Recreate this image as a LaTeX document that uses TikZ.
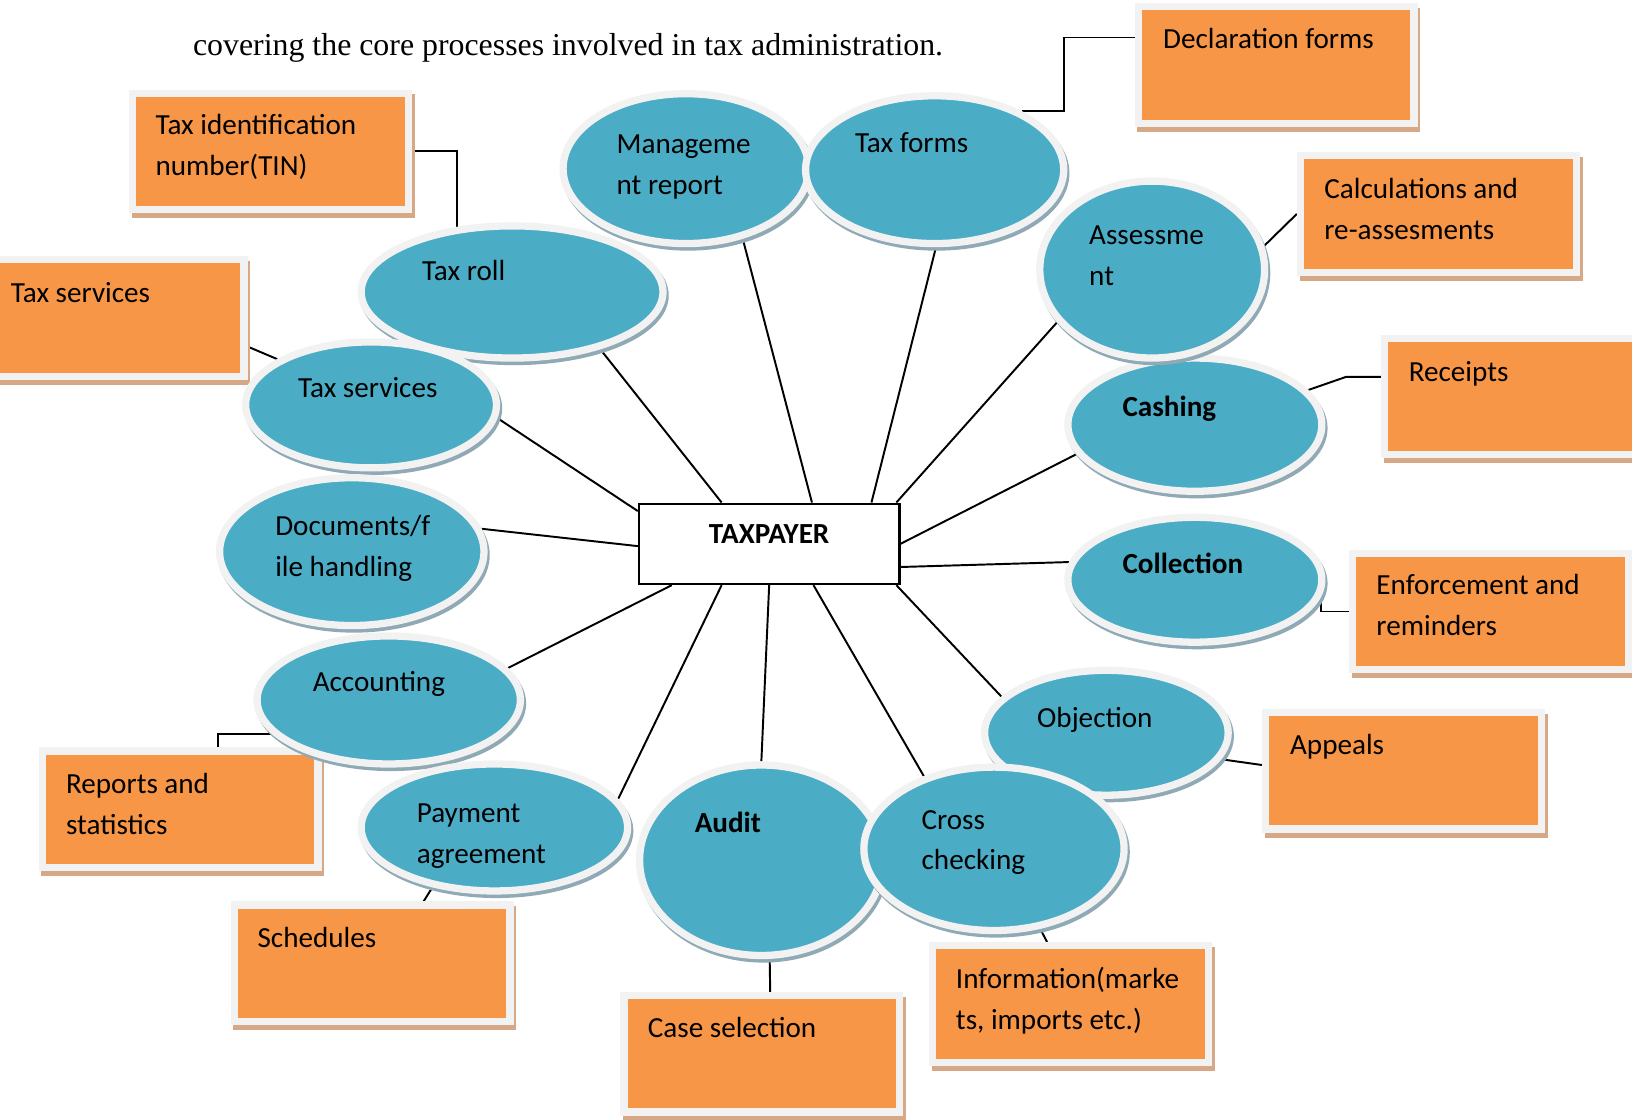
\documentclass[tikz,border=0pt]{standalone}
\usepackage{fontspec}
\setmainfont{Carlito}
\newfontfamily\bodyserif{Liberation Serif}
\usetikzlibrary{shapes.geometric,shadows,calc}

\pgfdeclarelayer{wires}
\pgfsetlayers{wires,main}

\definecolor{bubblefill}{RGB}{75,172,198}
\definecolor{rimgrey}{RGB}{242,242,242}
\definecolor{bubbleshade}{RGB}{143,170,181}
\definecolor{notefill}{RGB}{247,150,70}
\definecolor{noteshade}{RGB}{214,168,134}

\tikzset{every picture/.style={line width=0.75pt}}
\tikzset{
  bubble/.style={ellipse, inner sep=0pt, fill=bubblefill, draw=rimgrey, line width=5.25pt,
    general shadow={fill=bubbleshade, draw=bubbleshade, line width=5.25pt, shadow xshift=1.5pt, shadow yshift=-2.5pt}},
  note/.style={rectangle, inner sep=0pt, minimum width=198.75pt, minimum height=84pt, fill=notefill, draw=rimgrey, line width=5.25pt,
    general shadow={fill=noteshade, draw=noteshade, line width=5.25pt, shadow xshift=2pt, shadow yshift=-3.5pt}},
  lbl/.style={anchor=north west, inner sep=0pt, align=left, font=\fontsize{21}{29.5}\selectfont},
  link/.style={line width=1.4pt},
}

\begin{document}
\begin{tikzpicture}[x=0.75pt,y=0.75pt,yscale=-1,xscale=1]
\useasboundingbox (0,0) rectangle (1568,1076);

% Text Node
\node[anchor=base west, inner sep=0pt, font=\bodyserif\fontsize{22.95}{27}\selectfont] (intro) at (185,53) {covering the core processes involved in tax administration.};

%Shape: Rectangle [orange notes]
\node[note] (declar) at (1226,62.5) {};
\node[note] (tin) at (260,145.5) {};
\node[note] (calc) at (1382,205.5) {};
\node[note] (servbox) at (102,305.5) {};
\node[note] (receipts) at (1463,381) {};
\node[note] (enforce) at (1432,587.5) {};
\node[note] (appeals) at (1348.5,740.5) {};
\node[note] (reports) at (173,777.5) {};
\node[note] (schedules) at (357.5,925.5) {};
\node[note] (casesel) at (732,1012.5) {};
\node[note] (info) at (1028.5,964.5) {};

%Shape: Ellipse [processes]
\node[bubble, minimum width=177pt, minimum height=108pt] (mgmt) at (659,162) {};
\node[bubble, minimum width=186pt, minimum height=106.5pt] (taxforms) at (898,163) {};
\node[bubble, minimum width=217.5pt, minimum height=95.25pt] (taxroll) at (492,280.5) {};
\node[bubble, minimum width=180.75pt, minimum height=90.75pt] (taxserv) at (356.5,389) {};
\node[bubble, minimum width=190.5pt, minimum height=106.5pt] (docs) at (338,530) {};
\node[bubble, minimum width=189.75pt, minimum height=92.25pt] (acct) at (373.5,672.5) {};
\node[bubble, minimum width=192pt, minimum height=91.5pt] (payment) at (475,795) {};
\node[bubble, minimum width=183pt, minimum height=96pt] (cashing) at (1148,408) {};
\node[bubble, minimum width=162pt, minimum height=127.5pt] (assess) at (1107,259) {};
\node[bubble, minimum width=183pt, minimum height=90pt] (collect) at (1148,557) {};
\node[bubble, minimum width=175.5pt, minimum height=90pt] (object) at (1063,704) {};
\node[bubble, minimum width=175.5pt, minimum height=137.25pt] (audit) at (731.5,826.5) {};
\node[bubble, minimum width=187.5pt, minimum height=117.75pt] (cross) at (955,815.5) {};

%Shape: Rectangle [centre]
\node[draw, fill=white, line width=1.8pt, inner sep=0pt, minimum width=187.5pt, minimum height=57.75pt,
      text height=8pt, text depth=8pt, font=\fontsize{21}{29.5}\selectfont\bfseries] (payer) at (739,522.5) {TAXPAYER};

% Text Node
\node[lbl] (mgmtT) at (592,119.5) {\strut Manageme\\nt report};
\node[lbl] (taxformsT) at (821,118.5) {\strut Tax forms};
\node[lbl] (taxrollT) at (405,241.5) {\strut Tax roll};
\node[lbl] (assessT) at (1046,206.5) {\strut Assessme\\nt};
\node[lbl] (taxservT) at (286,353.5) {\strut Tax services};
\node[lbl] (cashingT) at (1078,372.5) {\strut\bfseries Cashing};
\node[lbl] (docsT) at (264,486.5) {\strut Documents/f\\ile handling};
\node[lbl] (collectT) at (1078,522.5) {\strut\bfseries Collection};
\node[lbl] (acctT) at (300,636.5) {\strut Accounting};
\node[lbl] (objectT) at (996,670.5) {\strut Objection};
\node[lbl] (paymentT) at (400,762.5) {\strut Payment\\agreement};
\node[lbl] (auditT) at (667,771.5) {\strut\bfseries Audit};
\node[lbl] (crossT) at (885,768.5) {\strut Cross\\checking};

% Text Node
\node[lbl] (declarT) at (1117,18.5) {\strut Declaration forms};
\node[lbl] (tinT) at (149,101.5) {\strut Tax identification\\number(TIN)};
\node[lbl] (calcT) at (1272,162.5) {\strut Calculations and\\re-assesments};
\node[lbl] (servboxT) at (10,262.5) {\strut Tax services};
\node[lbl] (receiptsT) at (1353,338.5) {\strut Receipts};
\node[lbl] (enforceT) at (1322,543.5) {\strut Enforcement and\\reminders};
\node[lbl] (appealsT) at (1239,696.5) {\strut Appeals};
\node[lbl] (reportsT) at (63,734.5) {\strut Reports and\\statistics};
\node[lbl] (schedulesT) at (247,882.5) {\strut Schedules};
\node[lbl] (caselT) at (622,968.5) {\strut Case selection};
\node[lbl] (infoT) at (918,921.5) {\strut Information(marke\\ts, imports etc.)};

\begin{pgfonlayer}{wires}
%Straight Lines [spokes]
\draw[link] (payer.44) -- (mgmt.-51);
\draw[link] (payer.22.5) -- (taxforms.-89);
\draw[link] (payer.139) -- (taxroll.-33);
\draw[link] (payer.18.7) -- (assess.209);
\draw[link] (payer.166.7) -- (taxserv.-6.7);
\draw[link] (payer.-0.7) -- (cashing.194);
\draw[link] (payer.181) -- (docs.10);
\draw[link] (payer.-10.2) -- (collect.172);
\draw[link] (payer.203.6) -- (acct.15);
\draw[link] (payer.-18.7) -- (object.161);
\draw[link] (payer.221.2) -- (payment.13);
\draw[link] (payer.south) -- (audit.north);
\draw[link] (payer.-43.2) -- (cross.134.6);

%Straight Lines [to notes]
\draw[link] (taxforms.34) -| ($(declar.west)+(-67.5,-26.5)$) -- ($(declar.west)+(0,-26.5)$);
\draw[link] (tin.east) -| (taxroll.130);
\draw[link] (assess.12) -- (calc.west);
\draw[link] (taxserv.154) -- ($(servbox.east)+(0,27.5)$);
\draw[link] (cashing.17) -- ($(receipts.west)+(-33.5,-19)$) -- ($(receipts.west)+(0,-19)$);
\draw[link] (collect.-8) |- (enforce.west);
\draw[link] (object.-13) -- ($(appeals.west)+(0,-5.5)$);
\draw[link] (acct.196) -| ($(reports.north)+(36,0)$);
\draw[link] (payment.224) -- ($(schedules.north)+(49.5,0)$);
\draw[link] ($(audit.south)+(8,0)$) -- ($(casesel.north)+(8,0)$);
\draw[link] (cross.-60) -- ($(info.north)+(-22.5,0)$);
\end{pgfonlayer}

\end{tikzpicture}
\end{document}
